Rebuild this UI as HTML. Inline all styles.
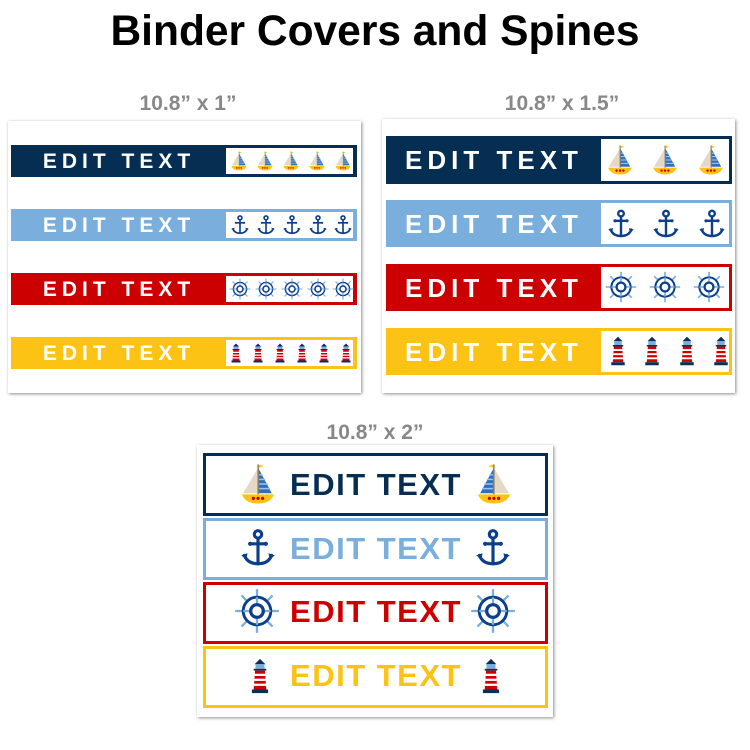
<!DOCTYPE html>
<html><head><meta charset="utf-8"><style>
html,body{margin:0;padding:0;background:#fff;}
svg{display:block;}
text{font-family:"Liberation Sans",sans-serif;font-weight:bold;}
</style></head><body>
<svg width="750" height="750" viewBox="0 0 750 750" xmlns="http://www.w3.org/2000/svg">
<defs>
<filter id="sh" x="-5%" y="-5%" width="110%" height="110%"><feDropShadow dx="1" dy="1" stdDeviation="1.5" flood-color="#000" flood-opacity="0.45"/></filter>
<symbol id="boat" viewBox="0 0 40 40">
<rect x="19.5" y="3" width="1.2" height="26" fill="#8a6a40"/>
<path d="M20.7 3 L25 4.5 L20.7 6 Z" fill="#fdc314"/>
<path d="M19.5 7 L7 28 L19.5 28 Z" fill="#e3d9c6"/>
<path d="M20.7 7 L32 28 L20.7 28 Z" fill="#2f6fc0"/>
<g stroke="#9cc4ea" stroke-width="1.3"><line x1="21" y1="12" x2="24" y2="12"/><line x1="21" y1="16" x2="26.3" y2="16"/><line x1="21" y1="20" x2="28.5" y2="20"/><line x1="21" y1="24" x2="30.5" y2="24"/></g>
<path d="M6 29 L34 29 Q31 37 20 37 Q9 37 6 29 Z" fill="#fdc314"/>
<circle cx="16" cy="32.5" r="1.4" fill="#cc0000"/><circle cx="20" cy="32.5" r="1.4" fill="#cc0000"/><circle cx="24" cy="32.5" r="1.4" fill="#cc0000"/>
</symbol>
<symbol id="anchor" viewBox="0 0 40 40">
<g fill="none" stroke="#0b3f8c" stroke-width="3" stroke-linecap="round">
<circle cx="20" cy="7" r="3.5"/>
<line x1="20" y1="10.5" x2="20" y2="35"/>
<line x1="13" y1="16" x2="27" y2="16"/>
<path d="M7 27 Q10 35 20 35 Q30 35 33 27"/>
</g>
<path d="M4 27 L10 25 L9 31 Z" fill="#0b3f8c"/><path d="M36 27 L30 25 L31 31 Z" fill="#0b3f8c"/>
<circle cx="12.5" cy="16" r="2" fill="#0b3f8c"/><circle cx="27.5" cy="16" r="2" fill="#0b3f8c"/>
</symbol>
<symbol id="wheel" viewBox="0 0 40 40">
<g stroke="#7aaedd" stroke-width="2"><line x1="20" y1="1" x2="20" y2="39"/><line x1="1" y1="20" x2="39" y2="20"/><line x1="6.5" y1="6.5" x2="33.5" y2="33.5"/><line x1="33.5" y1="6.5" x2="6.5" y2="33.5"/></g>
<circle cx="20" cy="20" r="12" fill="#fff" stroke="#0b3f8c" stroke-width="2.5"/>
<g stroke="#7aaedd" stroke-width="2"><line x1="20" y1="8" x2="20" y2="32"/><line x1="8" y1="20" x2="32" y2="20"/></g>
<circle cx="20" cy="20" r="5.5" fill="#fff" stroke="#0b3f8c" stroke-width="2.8"/>
</symbol>
<symbol id="light" viewBox="0 0 40 40">
<path d="M20 1 L26 7 L14 7 Z" fill="#0b2f5a"/>
<rect x="15" y="7" width="10" height="5" fill="#7aaedd"/>
<rect x="13" y="12" width="14" height="2" fill="#0b2f5a"/>
<path d="M14.5 14 L25.5 14 L27 35 L13 35 Z" fill="#cc0000"/>
<g fill="#fff"><rect x="14" y="17.5" width="12" height="2.5"/><rect x="13.7" y="23" width="12.6" height="2.5"/><rect x="13.3" y="28.5" width="13.4" height="2.5"/></g>
<rect x="11" y="35" width="18" height="4" fill="#0b2f5a"/>
</symbol>
</defs>

<text x="375" y="45" font-size="42.5" text-anchor="middle" fill="#000">Binder Covers and Spines</text>
<text x="188" y="110" font-size="21" text-anchor="middle" fill="#888">10.8” x 1”</text>
<text x="562" y="110" font-size="21" text-anchor="middle" fill="#888">10.8” x 1.5”</text>
<text x="375" y="439" font-size="21" text-anchor="middle" fill="#888">10.8” x 2”</text>

<!-- panel 1 -->
<rect x="8" y="121" width="353" height="272" fill="#fff" filter="url(#sh)"/>
<g font-size="21" fill="#fff" letter-spacing="5" text-anchor="middle">
<rect x="11" y="145" width="346" height="32" fill="#062e52"/><rect x="226" y="148" width="127" height="26" fill="#fff"/>
<text x="119" y="168">EDIT TEXT</text>
<rect x="11" y="209" width="346" height="32" fill="#7aaedd"/><rect x="226" y="212" width="127" height="26" fill="#fff"/>
<text x="119" y="232">EDIT TEXT</text>
<rect x="11" y="273" width="346" height="32" fill="#cc0000"/><rect x="226" y="276" width="127" height="26" fill="#fff"/>
<text x="119" y="296">EDIT TEXT</text>
<rect x="11" y="337" width="346" height="32" fill="#fdc314"/><rect x="226" y="340" width="127" height="26" fill="#fff"/>
<text x="119" y="360">EDIT TEXT</text>
</g>
<use href="#boat" x="228" y="149" width="22" height="24"/><use href="#boat" x="254" y="149" width="22" height="24"/><use href="#boat" x="280" y="149" width="22" height="24"/><use href="#boat" x="306" y="149" width="22" height="24"/><use href="#boat" x="332" y="149" width="22" height="24"/>
<use href="#anchor" x="229" y="213" width="22" height="24"/><use href="#anchor" x="255" y="213" width="22" height="24"/><use href="#anchor" x="281" y="213" width="22" height="24"/><use href="#anchor" x="307" y="213" width="22" height="24"/><use href="#anchor" x="332" y="213" width="22" height="24"/>
<use href="#wheel" x="229" y="278" width="22" height="22"/><use href="#wheel" x="255" y="278" width="22" height="22"/><use href="#wheel" x="281" y="278" width="22" height="22"/><use href="#wheel" x="307" y="278" width="22" height="22"/><use href="#wheel" x="332" y="278" width="22" height="22"/>
<use href="#light" x="226" y="341" width="20" height="24"/><use href="#light" x="248" y="341" width="20" height="24"/><use href="#light" x="270" y="341" width="20" height="24"/><use href="#light" x="292" y="341" width="20" height="24"/><use href="#light" x="314" y="341" width="20" height="24"/><use href="#light" x="336" y="341" width="20" height="24"/>

<!-- panel 2 -->
<rect x="382" y="119" width="353" height="274" fill="#fff" filter="url(#sh)"/>
<g font-size="26" fill="#fff" letter-spacing="5" text-anchor="middle">
<rect x="386" y="136" width="346" height="48" fill="#062e52"/><rect x="601" y="139" width="128" height="42" fill="#fff"/>
<text x="494" y="169">EDIT TEXT</text>
<rect x="386" y="200" width="346" height="47" fill="#7aaedd"/><rect x="601" y="203" width="128" height="41" fill="#fff"/>
<text x="494" y="233">EDIT TEXT</text>
<rect x="386" y="264" width="346" height="47" fill="#cc0000"/><rect x="601" y="267" width="128" height="41" fill="#fff"/>
<text x="494" y="297">EDIT TEXT</text>
<rect x="386" y="328" width="346" height="47" fill="#fdc314"/><rect x="601" y="331" width="128" height="41" fill="#fff"/>
<text x="494" y="361">EDIT TEXT</text>
</g>
<use href="#boat" x="603" y="141" width="34" height="38"/><use href="#boat" x="648" y="141" width="34" height="38"/><use href="#boat" x="694" y="141" width="34" height="38"/>
<use href="#anchor" x="605" y="206" width="32" height="36"/><use href="#anchor" x="650" y="206" width="32" height="36"/><use href="#anchor" x="696" y="206" width="32" height="36"/>
<use href="#wheel" x="605" y="271" width="32" height="32"/><use href="#wheel" x="649" y="271" width="32" height="32"/><use href="#wheel" x="693" y="271" width="32" height="32"/>
<use href="#light" x="603" y="333" width="30" height="36"/><use href="#light" x="637" y="333" width="30" height="36"/><use href="#light" x="672" y="333" width="30" height="36"/><use href="#light" x="706" y="333" width="30" height="36"/>

<!-- panel 3 -->
<rect x="197" y="445" width="356" height="272" fill="#fff" filter="url(#sh)"/>
<g stroke-width="3" fill="none">
<rect x="204.5" y="454.5" width="342" height="60" stroke="#062e52"/>
<rect x="204.5" y="519.5" width="342" height="59" stroke="#7aaedd"/>
<rect x="204.5" y="583.5" width="342" height="59" stroke="#cc0000"/>
<rect x="204.5" y="647.5" width="342" height="59" stroke="#fdc314"/>
</g>
<g font-size="31" text-anchor="middle" letter-spacing="1.5">
<text x="376" y="495" fill="#062e52">EDIT TEXT</text>
<text x="376" y="559" fill="#7aaedd">EDIT TEXT</text>
<text x="376" y="622" fill="#cc0000">EDIT TEXT</text>
<text x="376" y="686" fill="#fdc314">EDIT TEXT</text>
</g>
<use href="#boat" x="235" y="459" width="46" height="50"/><use href="#boat" x="471" y="459" width="46" height="50" transform="translate(988 0) scale(-1 1)"/>
<use href="#anchor" x="237" y="524" width="42" height="48"/><use href="#anchor" x="472" y="524" width="42" height="48"/>
<use href="#wheel" x="234" y="588" width="46" height="46"/><use href="#wheel" x="470" y="588" width="46" height="46"/>
<use href="#light" x="242" y="651" width="36" height="50"/><use href="#light" x="473" y="651" width="36" height="50"/>
</svg>
</body></html>
